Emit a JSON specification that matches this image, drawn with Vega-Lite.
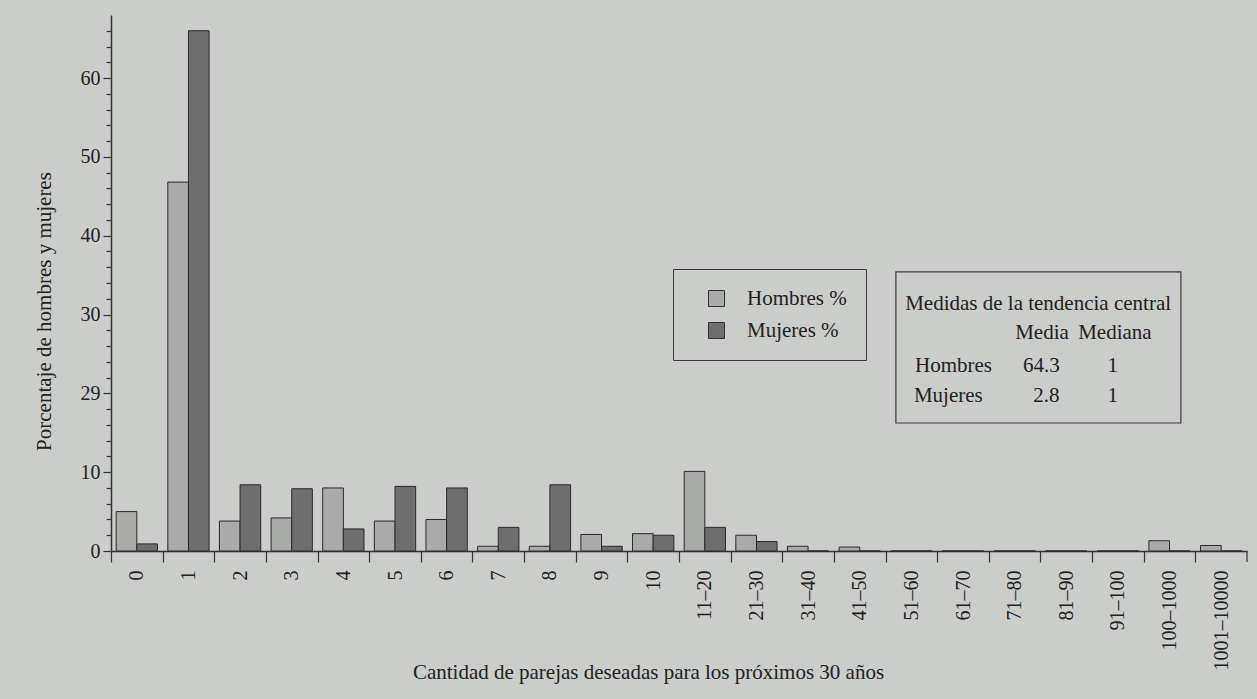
{
  "$schema": "https://vega.github.io/schema/vega-lite/v6.json",
  "width": 1136,
  "height": 536,
  "autosize": {"type": "none"},
  "padding": {"left": 111, "top": 15, "right": 10, "bottom": 148},
  "background": "#cbcdca",
  "config": {
    "view": {"stroke": null},
    "font": "Liberation Serif",
    "axis": {
      "labelFont": "Liberation Serif",
      "titleFont": "Liberation Serif",
      "labelColor": "#222222",
      "titleColor": "#222222",
      "domainColor": "#333333",
      "tickColor": "#333333",
      "titleFontWeight": "normal",
      "grid": false
    }
  },
  "datasets": {
    "bars": [
      {"cantidad": "0", "grupo": "Hombres %", "pct": 5.0},
      {"cantidad": "0", "grupo": "Mujeres %", "pct": 0.9},
      {"cantidad": "1", "grupo": "Hombres %", "pct": 46.8},
      {"cantidad": "1", "grupo": "Mujeres %", "pct": 66.0},
      {"cantidad": "2", "grupo": "Hombres %", "pct": 3.8},
      {"cantidad": "2", "grupo": "Mujeres %", "pct": 8.4},
      {"cantidad": "3", "grupo": "Hombres %", "pct": 4.2},
      {"cantidad": "3", "grupo": "Mujeres %", "pct": 7.9},
      {"cantidad": "4", "grupo": "Hombres %", "pct": 8.0},
      {"cantidad": "4", "grupo": "Mujeres %", "pct": 2.8},
      {"cantidad": "5", "grupo": "Hombres %", "pct": 3.8},
      {"cantidad": "5", "grupo": "Mujeres %", "pct": 8.2},
      {"cantidad": "6", "grupo": "Hombres %", "pct": 4.0},
      {"cantidad": "6", "grupo": "Mujeres %", "pct": 8.0},
      {"cantidad": "7", "grupo": "Hombres %", "pct": 0.6},
      {"cantidad": "7", "grupo": "Mujeres %", "pct": 3.0},
      {"cantidad": "8", "grupo": "Hombres %", "pct": 0.6},
      {"cantidad": "8", "grupo": "Mujeres %", "pct": 8.4},
      {"cantidad": "9", "grupo": "Hombres %", "pct": 2.1},
      {"cantidad": "9", "grupo": "Mujeres %", "pct": 0.6},
      {"cantidad": "10", "grupo": "Hombres %", "pct": 2.2},
      {"cantidad": "10", "grupo": "Mujeres %", "pct": 2.0},
      {"cantidad": "11–20", "grupo": "Hombres %", "pct": 10.1},
      {"cantidad": "11–20", "grupo": "Mujeres %", "pct": 3.0},
      {"cantidad": "21–30", "grupo": "Hombres %", "pct": 2.0},
      {"cantidad": "21–30", "grupo": "Mujeres %", "pct": 1.2},
      {"cantidad": "31–40", "grupo": "Hombres %", "pct": 0.6},
      {"cantidad": "31–40", "grupo": "Mujeres %", "pct": 0},
      {"cantidad": "41–50", "grupo": "Hombres %", "pct": 0.5},
      {"cantidad": "41–50", "grupo": "Mujeres %", "pct": 0},
      {"cantidad": "51–60", "grupo": "Hombres %", "pct": 0},
      {"cantidad": "51–60", "grupo": "Mujeres %", "pct": 0},
      {"cantidad": "61–70", "grupo": "Hombres %", "pct": 0},
      {"cantidad": "61–70", "grupo": "Mujeres %", "pct": 0},
      {"cantidad": "71–80", "grupo": "Hombres %", "pct": 0},
      {"cantidad": "71–80", "grupo": "Mujeres %", "pct": 0},
      {"cantidad": "81–90", "grupo": "Hombres %", "pct": 0},
      {"cantidad": "81–90", "grupo": "Mujeres %", "pct": 0},
      {"cantidad": "91–100", "grupo": "Hombres %", "pct": 0},
      {"cantidad": "91–100", "grupo": "Mujeres %", "pct": 0},
      {"cantidad": "100–1000", "grupo": "Hombres %", "pct": 1.3},
      {"cantidad": "100–1000", "grupo": "Mujeres %", "pct": 0},
      {"cantidad": "1001–10000", "grupo": "Hombres %", "pct": 0.7},
      {"cantidad": "1001–10000", "grupo": "Mujeres %", "pct": 0}
    ],
    "notes": [
      {"t": "Medidas de la tendencia central", "nx": 15.38, "ny": 30.58},
      {"t": "Media", "nx": 17.51, "ny": 26.9},
      {"t": "Mediana", "nx": 18.73, "ny": 26.9},
      {"t": "Hombres", "nx": 15.57, "ny": 22.71},
      {"t": "64.3", "nx": 17.66, "ny": 22.71},
      {"t": "1", "nx": 19.3, "ny": 22.71},
      {"t": "Mujeres", "nx": 15.55, "ny": 18.9},
      {"t": "2.8", "nx": 17.86, "ny": 18.9},
      {"t": "1", "nx": 19.3, "ny": 18.9}
    ],
    "boxes": [
      {"x0": 15.2, "x1": 20.72, "y0": 16.24, "y1": 35.4}
    ],
    "endtick": [
      {"ex": 22, "ey0": 0, "ey1": -1.4}
    ]
  },
  "layer": [
    {
      "data": {"name": "bars"},
      "mark": {"type": "bar", "stroke": "#2a2a2a", "strokeWidth": 1},
      "encoding": {
        "x": {
          "field": "cantidad",
          "type": "nominal",
          "sort": null,
          "scale": {"paddingInner": 0.2, "paddingOuter": 0.1},
          "axis": {
            "labelAngle": -90,
            "labelFontSize": 20,
            "labelPadding": 8,
            "tickSize": 11,
            "tickWidth": 1.2,
            "domainWidth": 1.5,
            "tickOffset": -25.82,
            "labelOffset": 25.82,
            "title": "Cantidad de parejas deseadas para los próximos 30 años",
            "titleFontSize": 21,
            "titleX": 537,
            "titleY": 127,
            "titleAlign": "center",
            "titleBaseline": "alphabetic"
          }
        },
        "xOffset": {"field": "grupo", "type": "nominal", "sort": ["Hombres %", "Mujeres %"]},
        "y": {
          "field": "pct",
          "type": "quantitative",
          "scale": {"domain": [0, 68], "nice": false, "zero": true},
          "axis": {
            "values": [0, 2, 4, 6, 8, 10, 12, 14, 16, 18, 20, 22, 24, 26, 28, 30, 32, 34, 36, 38, 40, 42, 44, 46, 48, 50, 52, 54, 56, 58, 60, 62, 64, 66],
            "labelExpr": "datum.value % 10 === 0 ? (datum.value === 20 ? '29' : datum.label) : ''",
            "labelOverlap": false,
            "tickSize": {"condition": {"test": "datum.value % 10 === 0", "value": 8}, "value": 5},
            "tickWidth": 1.2,
            "domainWidth": 1.5,
            "labelFontSize": 20,
            "labelPadding": 3,
            "title": "Porcentaje de hombres y mujeres",
            "titleFontSize": 21,
            "titleAngle": -90,
            "titleX": -61,
            "titleY": 296,
            "titleAlign": "center",
            "titleBaseline": "alphabetic"
          }
        },
        "color": {
          "field": "grupo",
          "type": "nominal",
          "scale": {"domain": ["Hombres %", "Mujeres %"], "range": ["#a9aba9", "#6e6e6e"]},
          "legend": {
            "title": null,
            "orient": "none",
            "legendX": 562,
            "legendY": 254,
            "padding": 19,
            "strokeColor": "#3a3a3a",
            "symbolType": "square",
            "symbolSize": 256,
            "symbolStrokeColor": "#333333",
            "symbolStrokeWidth": 1,
            "symbolOffset": 14,
            "labelFont": "Liberation Serif",
            "labelFontSize": 21,
            "labelOffset": 20,
            "labelColor": "#222222",
            "rowPadding": 10
          }
        }
      }
    },
    {
      "data": {"name": "boxes"},
      "mark": {"type": "rect", "fillOpacity": 0, "stroke": "#3a3a3a", "strokeWidth": 1.2},
      "encoding": {
        "x": {"field": "x0", "type": "quantitative", "scale": {"domain": [0, 22], "nice": false, "zero": false}, "axis": null},
        "x2": {"field": "x1"},
        "y": {"field": "y0", "type": "quantitative", "scale": {"domain": [0, 68], "nice": false, "zero": false}, "axis": null},
        "y2": {"field": "y1"}
      }
    },
    {
      "data": {"name": "notes"},
      "mark": {"type": "text", "align": "left", "baseline": "alphabetic", "font": "Liberation Serif", "fontSize": 21, "color": "#222222"},
      "encoding": {
        "x": {"field": "nx", "type": "quantitative", "scale": {"domain": [0, 22], "nice": false, "zero": false}, "axis": null},
        "y": {"field": "ny", "type": "quantitative", "scale": {"domain": [0, 68], "nice": false, "zero": false}, "axis": null},
        "text": {"field": "t"}
      }
    },
    {
      "data": {"name": "endtick"},
      "mark": {"type": "rule", "color": "#333333", "strokeWidth": 1.2},
      "encoding": {
        "x": {"field": "ex", "type": "quantitative", "scale": {"domain": [0, 22], "nice": false, "zero": false}, "axis": null},
        "y": {"field": "ey0", "type": "quantitative", "scale": {"domain": [0, 68], "nice": false, "zero": false}, "axis": null},
        "y2": {"field": "ey1"}
      }
    }
  ],
  "resolve": {"scale": {"x": "independent", "y": "independent"}}
}
